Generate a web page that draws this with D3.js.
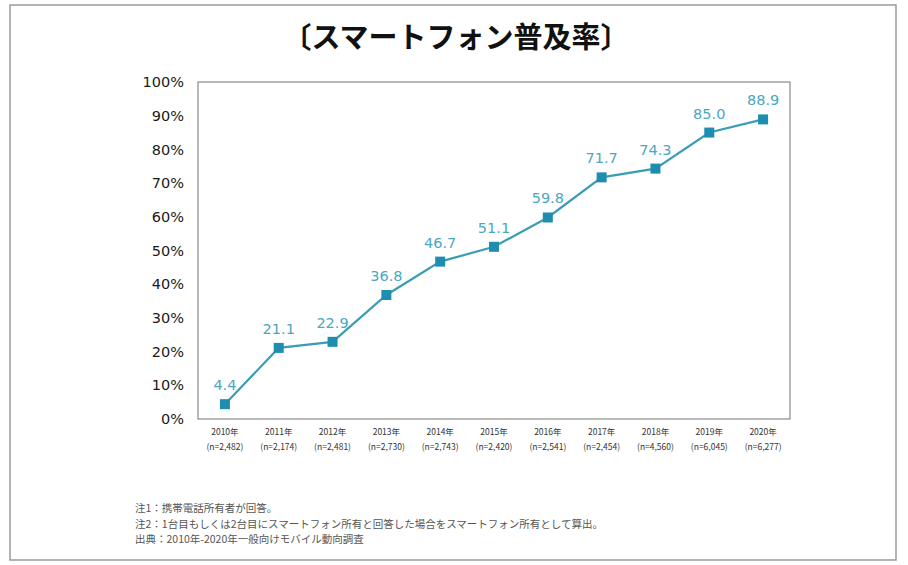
<!DOCTYPE html>
<html>
<head>
<meta charset="utf-8">
<script src="https://cdn.jsdelivr.net/npm/d3@7"></script>
<style>
  body { margin: 0; background: #fff; }
</style>
</head>
<body>
<div id="chart"></div>
<script>
// data
const years = ["2010年","2011年","2012年","2013年","2014年","2015年","2016年","2017年","2018年","2019年","2020年"];
const samples = ["(n=2,482)","(n=2,174)","(n=2,481)","(n=2,730)","(n=2,743)","(n=2,420)","(n=2,541)","(n=2,454)","(n=4,560)","(n=6,045)","(n=6,277)"];
const rates = [4.4, 21.1, 22.9, 36.8, 46.7, 51.1, 59.8, 71.7, 74.3, 85.0, 88.9];
const yTicks = [0, 10, 20, 30, 40, 50, 60, 70, 80, 90, 100];
const notes = [
  "注1：携帯電話所有者が回答。",
  "注2：1台目もしくは2台目にスマートフォン所有と回答した場合をスマートフォン所有として算出。",
  "出典：2010年-2020年一般向けモバイル動向調査"
];

let width = 908, height = 565;
let margin = {top: 82, right: 118, bottom: 146, left: 198};
let innerW = width - margin.left - margin.right,
    innerH = height - margin.top - margin.bottom;

let svg = d3.select("#chart")
  .append("svg")
  .attr("width", width)
  .attr("height", height)
  .style("font-family", "Verdana, 'DejaVu Sans', sans-serif");

// outer frame of the scanned figure
svg.append("rect")
  .attr("x", 10).attr("y", 5)
  .attr("width", 886).attr("height", 555)
  .attr("fill", "none")
  .attr("stroke", "#9a9a9a")
  .attr("stroke-width", 1.5);

svg.append("text")
  .attr("x", 456).attr("y", 48)
  .attr("text-anchor", "middle")
  .style("font-family", "'Noto Sans CJK JP', sans-serif")
  .style("font-weight", "bold")
  .style("font-size", "29px")
  .attr("fill", "#111")
  .text("〔スマートフォン普及率〕");

let g = svg.append("g")
  .attr("transform", "translate(" + margin.left + "," + margin.top + ")");

let x = d3.scaleBand()
  .domain(years)
  .range([0, innerW]);

let y = d3.scaleLinear()
  .domain([0, 100])
  .range([innerH, 0]);

// plot frame
g.append("rect")
  .attr("width", innerW).attr("height", innerH)
  .attr("fill", "none")
  .attr("stroke", "#8a8a8a")
  .attr("stroke-width", 1.2);

let yAxis = g.append("g")
  .call(d3.axisLeft(y).tickValues(yTicks).tickFormat(d => d + "%").tickSize(0).tickPadding(14));
yAxis.select(".domain").remove();
yAxis.selectAll("text")
  .style("font-size", "14.5px")
  .style("font-family", "Verdana, 'DejaVu Sans', sans-serif")
  .style("font-weight", "500")
  .attr("fill", "#1a1a1a");

let xAxis = g.append("g")
  .attr("transform", "translate(0," + innerH + ")")
  .call(d3.axisBottom(x).tickSize(0).tickPadding(10));
xAxis.select(".domain").remove();
xAxis.selectAll("text")
  .style("font-size", "8.5px")
  .style("font-family", "'Noto Sans CJK JP', sans-serif")
  .attr("fill", "#333");
xAxis.selectAll(".tick")
  .append("text")
  .attr("y", 25)
  .attr("dy", "0.71em")
  .attr("fill", "#333")
  .style("font-size", "8.5px")
  .style("font-family", "'Noto Sans CJK JP', sans-serif")
  .text((d, i) => samples[i]);

let cx = (d, i) => x(years[i]) + x.bandwidth() / 2;

let line = d3.line()
  .x(cx)
  .y(d => y(d));

g.append("path")
  .datum(rates)
  .attr("fill", "none")
  .attr("stroke", "#3b9db5")
  .attr("stroke-width", 2.2)
  .attr("d", line);

g.selectAll(".pt")
  .data(rates)
  .enter().append("rect")
  .attr("class", "pt")
  .attr("x", (d, i) => cx(d, i) - 5)
  .attr("y", d => y(d) - 5)
  .attr("width", 10).attr("height", 10)
  .attr("fill", "#1e8db0");

g.selectAll(".val")
  .data(rates)
  .enter().append("text")
  .attr("class", "val")
  .attr("x", cx)
  .attr("y", d => y(d) - 14)
  .attr("text-anchor", "middle")
  .attr("fill", "#4ba7c2")
  .style("font-size", "14.5px")
  .text(d => d.toFixed(1));

svg.selectAll(".note")
  .data(notes)
  .enter().append("text")
  .attr("class", "note")
  .attr("x", 135)
  .attr("y", (d, i) => 512 + i * 15.5)
  .attr("fill", "#555")
  .style("font-family", "'Noto Sans CJK JP', sans-serif")
  .style("font-size", "10.5px")
  .text(d => d);
</script>
</body>
</html>
